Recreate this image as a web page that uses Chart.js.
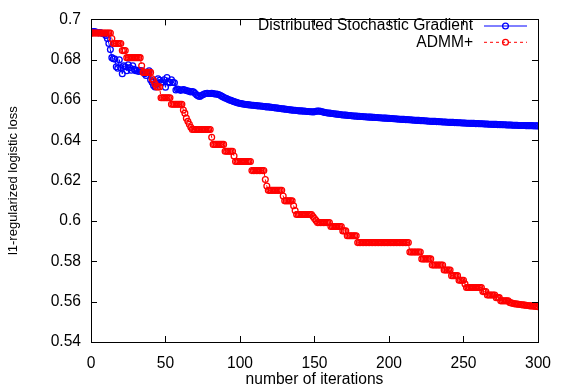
<!DOCTYPE html>
<html>
<head>
<meta charset="utf-8">
<script src="https://cdn.jsdelivr.net/npm/chart.js@4.4.0/dist/chart.umd.min.js"></script>
<style>
  html, body { margin: 0; padding: 0; background: #fff; }
  canvas { display: block; }
</style>
</head>
<body>
<canvas id="loss_chart" width="563" height="390"></canvas>
<script>
// iteration index 0..300 (x axis categories)
const iterations = Array.from({ length: 301 }, (_, i) => i);

// tick labels
const xTicks = [0, 50, 100, 150, 200, 250, 300];
const yTicks = [0.54, 0.56, 0.58, 0.6, 0.62, 0.64, 0.66, 0.68, 0.7];

const seriesNames = ['Distributed Stochastic Gradient', 'ADMM+'];

// loss, one value per iteration
const dsgLoss = [
  0.6932, 0.6938, 0.6940, 0.6938, 0.6935, 0.6933, 0.6935, 0.6932, 0.6930, 0.6928,
  0.6920, 0.6905, 0.6880, 0.6850, 0.6810, 0.6805, 0.6803, 0.6765, 0.6758, 0.6800,
  0.6760, 0.6730, 0.6770, 0.6765, 0.6745, 0.6775, 0.6760, 0.6748, 0.6770, 0.6752,
  0.6745, 0.6748, 0.6742, 0.6746, 0.6745, 0.6740, 0.6730, 0.6722, 0.6735, 0.6745,
  0.6700, 0.6688, 0.6672, 0.6665, 0.6680, 0.6705, 0.6698, 0.6688, 0.6690, 0.6700,
  0.6663, 0.6712, 0.6690, 0.6686, 0.6700, 0.6688, 0.6686, 0.6650, 0.6655, 0.6652,
  0.6648, 0.6650, 0.6652, 0.6650, 0.6647, 0.6645, 0.6643, 0.6640, 0.6642, 0.6640,
  0.6632, 0.6625, 0.6620, 0.6618, 0.6622, 0.6626, 0.6630, 0.6632, 0.6633, 0.6632,
  0.6632, 0.6633, 0.6632, 0.6630, 0.6630, 0.6628, 0.6626, 0.6622, 0.6618, 0.6614,
  0.6610, 0.6607, 0.6604, 0.6600, 0.6598, 0.6595, 0.6592, 0.6590, 0.6587, 0.6585,
  0.6583, 0.6582, 0.6580, 0.6579, 0.6578, 0.6577, 0.6576, 0.6575, 0.6574, 0.6574,
  0.6573, 0.6572, 0.6571, 0.6570, 0.6570, 0.6569, 0.6568, 0.6567, 0.6566, 0.6566,
  0.6565, 0.6564, 0.6563, 0.6562, 0.6561, 0.6560, 0.6559, 0.6558, 0.6557, 0.6556,
  0.6555, 0.6554, 0.6553, 0.6552, 0.6551, 0.6550, 0.6549, 0.6549, 0.6548, 0.6547,
  0.6546, 0.6546, 0.6545, 0.6545, 0.6544, 0.6543, 0.6543, 0.6542, 0.6542, 0.6541,
  0.6542, 0.6544, 0.6545, 0.6545, 0.6544, 0.6542, 0.6540, 0.6538, 0.6537, 0.6536,
  0.6535, 0.6534, 0.6533, 0.6532, 0.6531, 0.6530, 0.6529, 0.6528, 0.6527, 0.6526,
  0.6526, 0.6525, 0.6524, 0.6523, 0.6523, 0.6522, 0.6521, 0.6521, 0.6520, 0.6519,
  0.6519, 0.6518, 0.6518, 0.6517, 0.6517, 0.6516, 0.6516, 0.6515, 0.6515, 0.6514,
  0.6514, 0.6513, 0.6513, 0.6512, 0.6512, 0.6511, 0.6511, 0.6510, 0.6510, 0.6509,
  0.6509, 0.6508, 0.6508, 0.6507, 0.6507, 0.6506, 0.6506, 0.6505, 0.6505, 0.6504,
  0.6504, 0.6503, 0.6503, 0.6502, 0.6502, 0.6501, 0.6501, 0.6500, 0.6500, 0.6499,
  0.6499, 0.6498, 0.6498, 0.6497, 0.6497, 0.6496, 0.6496, 0.6495, 0.6495, 0.6494,
  0.6494, 0.6494, 0.6493, 0.6493, 0.6492, 0.6492, 0.6491, 0.6491, 0.6491, 0.6490,
  0.6490, 0.6489, 0.6489, 0.6489, 0.6488, 0.6488, 0.6487, 0.6487, 0.6487, 0.6486,
  0.6486, 0.6486, 0.6485, 0.6485, 0.6485, 0.6484, 0.6484, 0.6484, 0.6483, 0.6483,
  0.6483, 0.6482, 0.6482, 0.6482, 0.6481, 0.6481, 0.6481, 0.6480, 0.6480, 0.6480,
  0.6479, 0.6479, 0.6479, 0.6478, 0.6478, 0.6478, 0.6477, 0.6477, 0.6477, 0.6476,
  0.6476, 0.6476, 0.6476, 0.6475, 0.6475, 0.6475, 0.6475, 0.6474, 0.6474, 0.6474,
  0.6474, 0.6474, 0.6473, 0.6473, 0.6473, 0.6473, 0.6473, 0.6472, 0.6472, 0.6472,
  0.6472
];

const admmLoss = [
  0.6932, 0.6932, 0.6932, 0.6932, 0.6932, 0.6932, 0.6932, 0.6932, 0.6932, 0.6932,
  0.6932, 0.6932, 0.6932, 0.6932, 0.6905, 0.6880, 0.6880, 0.6880, 0.6880, 0.6880,
  0.6880, 0.6845, 0.6845, 0.6845, 0.6810, 0.6810, 0.6810, 0.6810, 0.6810, 0.6810,
  0.6810, 0.6810, 0.6810, 0.6810, 0.6770, 0.6737, 0.6737, 0.6737, 0.6737, 0.6737,
  0.6737, 0.6705, 0.6695, 0.6680, 0.6665, 0.6665, 0.6665, 0.6611, 0.6611, 0.6611,
  0.6611, 0.6611, 0.6611, 0.6611, 0.6579, 0.6579, 0.6579, 0.6579, 0.6579, 0.6579,
  0.6579, 0.6579, 0.6550, 0.6535, 0.6510, 0.6495, 0.6480, 0.6465, 0.6454, 0.6454,
  0.6454, 0.6454, 0.6454, 0.6454, 0.6454, 0.6454, 0.6454, 0.6454, 0.6454, 0.6454,
  0.6454, 0.6415, 0.6380, 0.6380, 0.6380, 0.6380, 0.6380, 0.6380, 0.6380, 0.6380,
  0.6346, 0.6346, 0.6346, 0.6346, 0.6346, 0.6346, 0.6322, 0.6295, 0.6295, 0.6295,
  0.6295, 0.6295, 0.6295, 0.6295, 0.6295, 0.6295, 0.6295, 0.6295, 0.6250, 0.6250,
  0.6250, 0.6250, 0.6250, 0.6250, 0.6250, 0.6250, 0.6250, 0.6206, 0.6173, 0.6152,
  0.6152, 0.6152, 0.6152, 0.6152, 0.6152, 0.6152, 0.6152, 0.6152, 0.6152, 0.6124,
  0.6100, 0.6100, 0.6100, 0.6100, 0.6100, 0.6100, 0.6076, 0.6052, 0.6032, 0.6032,
  0.6032, 0.6032, 0.6032, 0.6032, 0.6032, 0.6032, 0.6032, 0.6032, 0.6032, 0.6022,
  0.6012, 0.6003, 0.5992, 0.5992, 0.5992, 0.5992, 0.5992, 0.5992, 0.5992, 0.5992,
  0.5992, 0.5973, 0.5973, 0.5973, 0.5973, 0.5973, 0.5973, 0.5973, 0.5973, 0.5951,
  0.5951, 0.5951, 0.5927, 0.5927, 0.5927, 0.5927, 0.5927, 0.5927, 0.5927, 0.5893,
  0.5893, 0.5893, 0.5893, 0.5893, 0.5893, 0.5893, 0.5893, 0.5893, 0.5893, 0.5893,
  0.5893, 0.5893, 0.5893, 0.5893, 0.5893, 0.5893, 0.5893, 0.5893, 0.5893, 0.5893,
  0.5893, 0.5893, 0.5893, 0.5893, 0.5893, 0.5893, 0.5893, 0.5893, 0.5893, 0.5893,
  0.5893, 0.5893, 0.5893, 0.5893, 0.5846, 0.5846, 0.5846, 0.5846, 0.5846, 0.5846,
  0.5846, 0.5846, 0.5812, 0.5812, 0.5812, 0.5812, 0.5812, 0.5812, 0.5812, 0.5782,
  0.5782, 0.5782, 0.5782, 0.5782, 0.5782, 0.5782, 0.5782, 0.5757, 0.5757, 0.5757,
  0.5757, 0.5757, 0.5729, 0.5729, 0.5729, 0.5729, 0.5729, 0.5706, 0.5706, 0.5706,
  0.5706, 0.5688, 0.5670, 0.5670, 0.5670, 0.5670, 0.5670, 0.5670, 0.5670, 0.5670,
  0.5670, 0.5670, 0.5670, 0.5650, 0.5650, 0.5650, 0.5633, 0.5633, 0.5633, 0.5633,
  0.5633, 0.5633, 0.5620, 0.5620, 0.5620, 0.5604, 0.5604, 0.5604, 0.5604, 0.5604,
  0.5604, 0.5596, 0.5594, 0.5592, 0.5590, 0.5589, 0.5588, 0.5587, 0.5586, 0.5585,
  0.5584, 0.5583, 0.5582, 0.5581, 0.5580, 0.5579, 0.5579, 0.5578, 0.5577, 0.5576,
  0.5575
];

const FONT = '"Liberation Sans", Arial, Helvetica, sans-serif';
Chart.defaults.font.family = FONT;
Chart.defaults.font.size = 15.6;
Chart.defaults.color = '#000';

function toPoints(values) {
  return iterations.map((it, i) => ({ x: it, y: values[i] }));
}

// gnuplot style frame: full border, ticks drawn inward on all four sides
const framePlugin = {
  id: 'frame',
  afterDatasetsDraw(chart) {
    const { ctx, chartArea: a, scales } = chart;
    ctx.save();
    ctx.strokeStyle = '#000';
    ctx.lineWidth = 1;
    ctx.beginPath();
    scales.x.ticks.forEach(t => {
      const px = Math.round(scales.x.getPixelForValue(t.value)) + 0.5;
      ctx.moveTo(px, a.bottom); ctx.lineTo(px, a.bottom - 6);
      ctx.moveTo(px, a.top); ctx.lineTo(px, a.top + 6);
    });
    scales.y.ticks.forEach(t => {
      const py = Math.round(scales.y.getPixelForValue(t.value)) + 0.5;
      ctx.moveTo(a.left, py); ctx.lineTo(a.left + 6, py);
      ctx.moveTo(a.right, py); ctx.lineTo(a.right - 6, py);
    });
    ctx.stroke();
    ctx.strokeRect(Math.round(a.left) + 0.5, Math.round(a.top) + 0.5,
      Math.round(a.right - a.left), Math.round(a.bottom - a.top));
    ctx.restore();
  }
};

// key in the top right corner: label right aligned, then sample line + marker
const keyPlugin = {
  id: 'key',
  afterDatasetsDraw(chart) {
    const { ctx } = chart;
    const rows = [{ text: 30.3, line: 25.5 }, { text: 46.6, line: 41.8 }];
    ctx.save();
    ctx.font = '15.6px ' + FONT;
    ctx.textAlign = 'right';
    ctx.textBaseline = 'alphabetic';
    chart.data.datasets.forEach((ds, i) => {
      const r = rows[i];
      ctx.fillStyle = '#000';
      ctx.fillText(ds.label, 473, r.text);
      ctx.strokeStyle = ds.borderColor;
      ctx.lineWidth = 1;
      ctx.setLineDash(ds.borderDash || []);
      ctx.beginPath();
      ctx.moveTo(484, r.line + 0.5);
      ctx.lineTo(527, r.line + 0.5);
      ctx.stroke();
      ctx.setLineDash([]);
      ctx.lineWidth = 1.3;
      ctx.beginPath();
      ctx.arc(505.5, r.line + 0.5, 2.9, 0, Math.PI * 2);
      ctx.stroke();
    });
    ctx.restore();
  }
};

const datasets = [
  {
    label: seriesNames[0],
    data: toPoints(dsgLoss),
    borderColor: 'rgb(0,0,255)',
    backgroundColor: 'rgb(0,0,255)',
    borderWidth: 1,
    pointRadius: 2.9,
    pointBorderWidth: 1.3,
    pointBackgroundColor: 'rgba(0,0,0,0)',
    pointBorderColor: 'rgb(0,0,255)',
    order: 2
  },
  {
    label: seriesNames[1],
    data: toPoints(admmLoss),
    borderColor: 'rgb(255,0,0)',
    backgroundColor: 'rgb(255,0,0)',
    borderWidth: 1,
    borderDash: [3, 3],
    pointRadius: 2.9,
    pointBorderWidth: 1.3,
    pointBackgroundColor: 'rgba(0,0,0,0)',
    pointBorderColor: 'rgb(255,0,0)',
    order: 1
  }
];

var canvas = document.getElementById('loss_chart');
var chart = new Chart(canvas, {
  type: 'line',
  data: { datasets: datasets },
  options: {
    responsive: false,
    animation: false,
    events: [],
    layout: { padding: { top: 13, right: 17, bottom: 0, left: 0 } },
    plugins: { legend: { display: false }, tooltip: { enabled: false } },
    scales: {
      x: {
        type: 'linear',
        min: 0,
        max: 300,
        afterBuildTicks: s => { s.ticks = xTicks.map(v => ({ value: v })); },
        afterFit: s => { s.height = 48; },
        grid: { display: false, drawTicks: false },
        border: { display: false },
        ticks: { padding: 12, maxRotation: 0, autoSkip: false, callback: v => String(v) },
        title: { display: true, text: 'number of iterations', padding: { top: 0, bottom: 1 } }
      },
      y: {
        type: 'linear',
        min: 0.54,
        max: 0.7,
        afterBuildTicks: s => { s.ticks = yTicks.map(v => ({ value: v })); },
        afterFit: s => { s.width = 91; },
        grid: { display: false, drawTicks: false },
        border: { display: false },
        ticks: { padding: 10, autoSkip: false, callback: v => String(v) },
        title: { display: true, text: 'l1-regularized logistic loss', font: { size: 13 }, padding: { top: 6, bottom: 0 } }
      }
    }
  },
  plugins: [framePlugin, keyPlugin]
});
</script>
</body>
</html>
